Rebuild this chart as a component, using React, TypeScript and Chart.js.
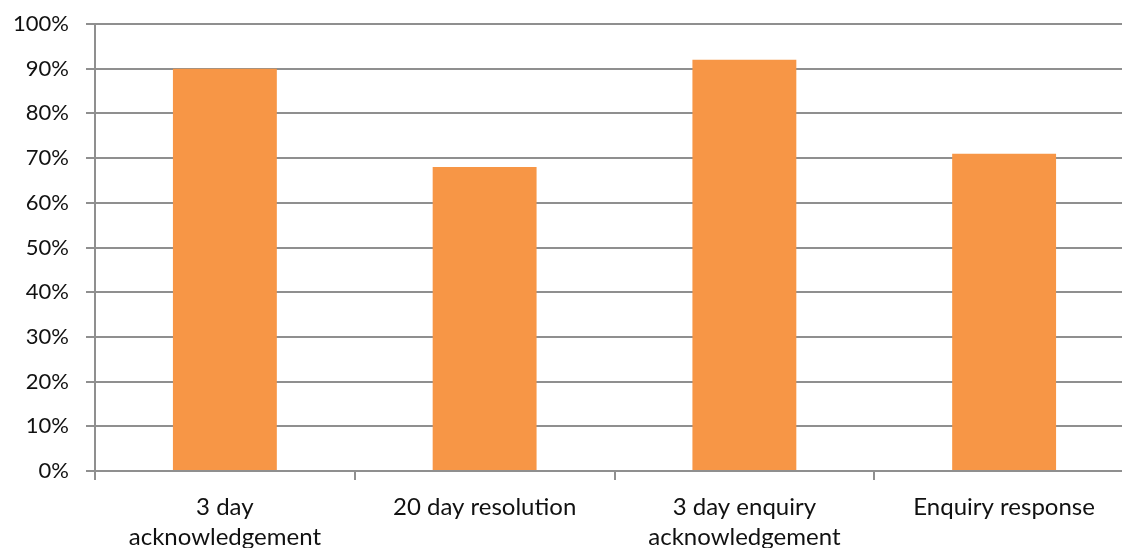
import React, { useEffect, useRef } from "react";
import { Chart, registerables } from "chart.js";

Chart.register(...registerables);

// Service-standard performance by measure
const categories: (string | string[])[] = [
  ["3 day", "acknowledgement"],
  "20 day resolution",
  ["3 day enquiry", "acknowledgement"],
  "Enquiry response",
];
const performance: number[] = [90, 68, 92, 71];
const yTicks: number[] = [0, 10, 20, 30, 40, 50, 60, 70, 80, 90, 100];

const BAR_COLOR = "#F79646";
const GRID_COLOR = "#8f8f8f";
const FONT = "Lato, 'Open Sans', sans-serif";

export default function App() {
  const canvasRef = useRef<HTMLCanvasElement | null>(null);

  useEffect(() => {
    if (!canvasRef.current) return;
    const chart = new Chart(canvasRef.current, {
      type: "bar",
      data: {
        labels: categories,
        datasets: [
          {
            data: performance,
            backgroundColor: BAR_COLOR,
            borderWidth: 0,
            categoryPercentage: 1,
            barPercentage: 0.4,
          },
        ],
      },
      options: {
        responsive: false,
        animation: false,
        layout: { padding: { top: 24, right: 0, left: 0, bottom: 0 } },
        plugins: {
          legend: { display: false },
          tooltip: { enabled: false },
        },
        scales: {
          x: {
            offset: true,
            grid: {
              display: true,
              drawOnChartArea: false,
              drawTicks: true,
              tickLength: 9,
              color: GRID_COLOR,
              lineWidth: 2,
              offset: true,
            },
            border: { display: true, color: GRID_COLOR, width: 2 },
            ticks: {
              color: "#111",
              font: { family: FONT, size: 24, lineHeight: 1.25 },
              padding: 12,
              maxRotation: 0,
              autoSkip: false,
            },
            afterFit: (scale: any) => {
              scale.height = 77;
              scale.paddingLeft = 0;
              scale.paddingRight = 0;
            },
          },
          y: {
            min: 0,
            max: 100,
            afterBuildTicks: (scale: any) => {
              scale.ticks = yTicks.map((v) => ({ value: v }));
            },
            grid: {
              color: GRID_COLOR,
              lineWidth: 2,
              tickLength: 9,
            },
            border: { display: true, color: GRID_COLOR, width: 2 },
            ticks: {
              color: "#111",
              font: { family: FONT, size: 22 },
              padding: 17,
              callback: (v: any) => `${v}%`,
            },
            afterFit: (scale: any) => {
              scale.width = 95;
              scale.paddingTop = 0;
              scale.paddingBottom = 0;
            },
          },
        },
      },
    });
    return () => chart.destroy();
  }, []);

  return (
    <div
      style={{
        position: "fixed",
        left: 0,
        top: 0,
        width: 1122,
        height: 548,
        overflow: "hidden",
        background: "#fff",
      }}
    >
      <canvas ref={canvasRef} width={1134} height={548} style={{ display: "block" }} />
    </div>
  );
}
